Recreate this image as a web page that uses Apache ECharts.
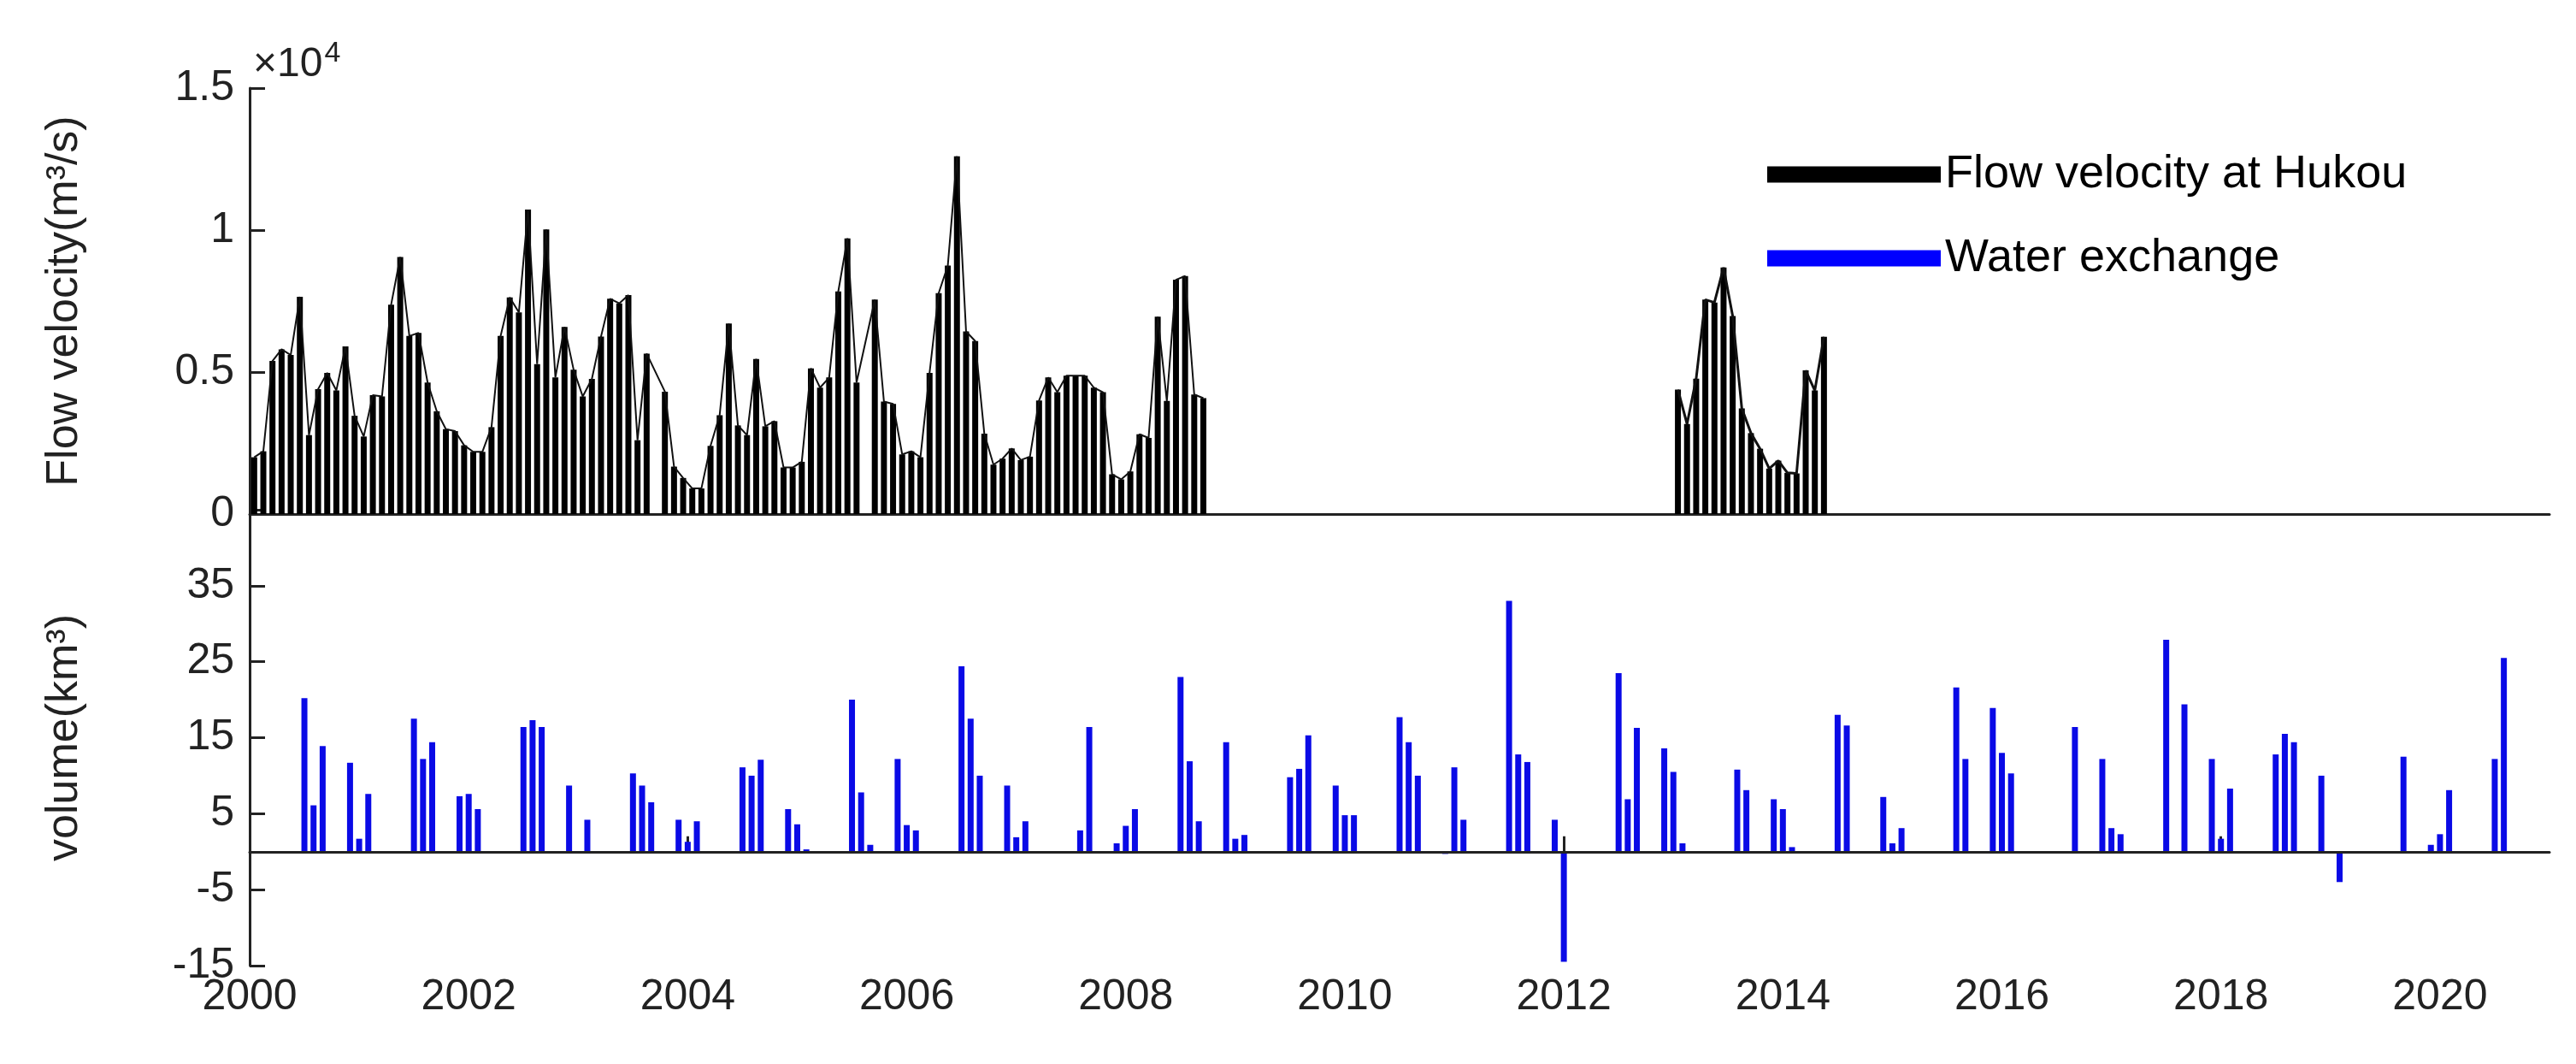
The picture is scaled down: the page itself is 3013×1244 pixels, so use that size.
<!DOCTYPE html>
<html lang="en">
<head>
    <meta charset="UTF-8">
    <title>Flow velocity and water exchange</title>
    <script src="https://cdn.jsdelivr.net/npm/echarts@6/dist/echarts.min.js"></script>
    <style>
        html, body {margin: 0; padding: 0; background: #fff;}
        #container {width: 3013px; height: 1244px;}
    </style>
</head>
<body>
<div id="container"></div>
<script type="text/javascript">
    // monthly flow at Hukou, first block starts Jan 2000, second block Jan 2013 (null = missing month)
    var flowStart1 = 2000;
    var flow1 = [2000, 2210, 5390, 5800, 5600, 7650, 2780, 4400, 4970, 4350, 5900, 3460,
        2730, 4190, 4140, 7370, 9050, 6270, 6380, 4630, 3620, 2990, 2920, 2420,
        2190, 2190, 3060, 6270, 7630, 7100, 10720, 5280, 10020, 4810, 6590, 5080,
        4140, 4760, 6250, 7580, 7420, 7710, 2600, 5650, null, 4310, 1670, 1270,
        900, 900, 2400, 3480, 6710, 3120, 2780, 5460, 3090, 3270, 1640, 1640,
        1840, 5130, 4450, 4810, 7840, 9710, 4630, null, 7550, 3960, 3880, 2100,
        2210, 2000, 4970, 7780, 8750, 12600, 6430, 6090, 2830, 1740, 1950, 2310,
        1900, 2020, 4000, 4810, 4290, 4870, 4870, 4870, 4450, 4290, 1400, 1220,
        1500, 2810, 2680, 6950, 3980, 8250, 8380, 4210, 4080];
    var flowStart2 = 2013;
    var flow2 = [4380, 3170, 4770, 7550, 7450, 8680, 6970, 3720, 2850, 2300, 1600, 1880,
        1450, 1430, 5060, 4350, 6240];

    // water exchange volume (km3) by month
    var exMonths = ['2000-07', '2000-08', '2000-09', '2000-12', '2001-01', '2001-02',
        '2001-07', '2001-08', '2001-09', '2001-12', '2002-01', '2002-02',
        '2002-07', '2002-08', '2002-09', '2002-12', '2003-02',
        '2003-07', '2003-08', '2003-09', '2003-12', '2004-01', '2004-02',
        '2004-07', '2004-08', '2004-09', '2004-12', '2005-01', '2005-02',
        '2005-07', '2005-08', '2005-09', '2005-12', '2006-01', '2006-02',
        '2006-07', '2006-08', '2006-09', '2006-12', '2007-01', '2007-02',
        '2007-08', '2007-09', '2007-12', '2008-01', '2008-02',
        '2008-07', '2008-08', '2008-09', '2008-12', '2009-01', '2009-02',
        '2009-07', '2009-08', '2009-09', '2009-12', '2010-01', '2010-02',
        '2010-07', '2010-08', '2010-09', '2010-12', '2011-01', '2011-02',
        '2011-07', '2011-08', '2011-09', '2011-12', '2012-01',
        '2012-07', '2012-08', '2012-09', '2012-12', '2013-01', '2013-02',
        '2013-08', '2013-09', '2013-12', '2014-01', '2014-02',
        '2014-07', '2014-08', '2014-12', '2015-01', '2015-02',
        '2015-08', '2015-09', '2015-12', '2016-01', '2016-02',
        '2016-09', '2016-12', '2017-01', '2017-02',
        '2017-07', '2017-09', '2017-12', '2018-01', '2018-02',
        '2018-07', '2018-08', '2018-09', '2018-12', '2019-02',
        '2019-09', '2019-12', '2020-01', '2020-02', '2020-07', '2020-08'];
    var exValues = [20.2, 6.1, 13.9, 11.7, 1.7, 7.6,
        17.5, 12.2, 14.4, 7.3, 7.6, 5.6,
        16.4, 17.3, 16.4, 8.7, 4.2,
        10.3, 8.7, 6.5, 4.2, 1.3, 4.0,
        11.1, 10.0, 12.1, 5.6, 3.6, 0.3,
        20.0, 7.8, 0.9, 12.2, 3.5, 2.8,
        24.4, 17.5, 10.0, 8.7, 1.9, 4.0,
        2.8, 16.4, 1.1, 3.4, 5.6,
        23.0, 11.9, 4.0, 14.4, 1.7, 2.2,
        9.8, 10.9, 15.3, 8.7, 4.8, 4.8,
        17.7, 14.4, 10.0, -0.3, 11.1, 4.2,
        33.0, 12.8, 11.8, 4.2, -14.5,
        23.5, 6.9, 16.3, 13.6, 10.5, 1.1,
        10.8, 8.1, 6.9, 5.6, 0.6,
        18.0, 16.6, 7.2, 1.1, 3.1,
        21.6, 12.2, 18.9, 13.0, 10.3,
        16.4, 12.2, 3.1, 2.3,
        27.9, 19.4, 12.2, 1.7, 8.3,
        12.8, 15.5, 14.4, 10.0, -4.0,
        12.5, 0.9, 2.3, 8.1, 12.2, 25.5];

    var flowTicks = ['0', '0.5', '1', '1.5'];

    function monthly(start, arr) {
        return arr.map(function (v, i) { return [start + (i + 0.5) / 12, v]; });
    }
    var flowData1 = monthly(flowStart1, flow1);
    var flowData2 = monthly(flowStart2, flow2);
    var exData = exMonths.map(function (m, i) {
        var p = m.split('-');
        return [Number(p[0]) + (Number(p[1]) - 1) / 12, exValues[i]];
    });

    var font = 'Liberation Sans, Arial, sans-serif';
    var axisLine = {show: true, lineStyle: {color: '#222', width: 3}};
    var tick = {show: true, inside: true, length: 18, lineStyle: {color: '#222', width: 3}};

    var flowBarStyle = function (fill) {
        return {color: fill, borderColor: '#000', borderWidth: 4};
    };

    var option = {
        backgroundColor: '#fff',
        animation: false,
        textStyle: {fontFamily: font},
        grid: [
            {left: 292, right: 31, top: 103, height: 498},
            {left: 292, right: 31, top: 596, height: 533}
        ],
        legend: {
            orient: 'vertical',
            left: 2062,
            top: 172,
            itemWidth: 203,
            itemHeight: 19,
            itemGap: 44,
            icon: 'rect',
            textStyle: {fontSize: 54, color: '#000', fontFamily: font},
            data: [
                {name: 'Flow velocity at Hukou', itemStyle: {color: '#000', borderWidth: 0}},
                {name: 'Water exchange', itemStyle: {color: '#0000ff'}}
            ]
        },
        xAxis: [
            {
                type: 'value', gridIndex: 0, min: 2000, max: 2021,
                axisLine: axisLine, axisTick: {show: false}, axisLabel: {show: false},
                splitLine: {show: false}
            },
            {
                type: 'value', gridIndex: 1, min: 2000, max: 2021, interval: 2,
                axisLine: axisLine,
                axisTick: tick,
                axisLabel: {
                    fontSize: 50, color: '#222', margin: 12, fontFamily: font,
                    showMaxLabel: false,
                    formatter: function (v) { return String(v); }
                },
                splitLine: {show: false}
            }
        ],
        yAxis: [
            {
                type: 'value', gridIndex: 0, min: 0, max: 15000, interval: 5000,
                name: 'Flow velocity(m³/s)', nameLocation: 'middle', nameGap: 190,
                nameTextStyle: {fontSize: 52, color: '#222', fontFamily: font},
                axisLine: axisLine, axisTick: tick,
                axisLabel: {
                    fontSize: 50, color: '#222', margin: 18, fontFamily: font,
                    formatter: function (v) { return flowTicks[Math.round(v / 5000)]; }
                },
                splitLine: {show: false}
            },
            {
                type: 'value', gridIndex: 1, min: -15, max: 45, interval: 10,
                name: 'volume(km³)', nameLocation: 'middle', nameGap: 190,
                nameTextStyle: {fontSize: 52, color: '#222', fontFamily: font},
                axisLine: axisLine, axisTick: tick,
                axisLabel: {
                    fontSize: 50, color: '#222', margin: 18, fontFamily: font,
                    formatter: function (v) { return v === 45 ? '' : String(v); }
                },
                splitLine: {show: false}
            }
        ],
        graphic: [{
            type: 'text', left: 296, top: 46,
            style: {
                text: '{a|×10}{b|4}',
                rich: {
                    a: {fontSize: 48, fill: '#222', fontFamily: font},
                    b: {fontSize: 34, fill: '#222', fontFamily: font, verticalAlign: 'top', padding: [0, 0, 26, 2]}
                }
            }
        }],
        series: [
            {
                name: 'Flow velocity at Hukou', type: 'bar', xAxisIndex: 0, yAxisIndex: 0,
                barWidth: 7, barGap: '-100%', data: flowData1, itemStyle: flowBarStyle('#ffffff')
            },
            {
                name: 'Flow velocity at Hukou', type: 'bar', xAxisIndex: 0, yAxisIndex: 0,
                barWidth: 7, barGap: '-100%', data: flowData2, itemStyle: flowBarStyle('#c0c0c0')
            },
            {
                type: 'line', xAxisIndex: 0, yAxisIndex: 0, data: flowData1, connectNulls: true,
                showSymbol: false, lineStyle: {color: '#111', width: 2}
            },
            {
                type: 'line', xAxisIndex: 0, yAxisIndex: 0, data: flowData2, connectNulls: true,
                showSymbol: false, lineStyle: {color: '#111', width: 3}
            },
            {
                name: 'Water exchange', type: 'bar', xAxisIndex: 1, yAxisIndex: 1,
                barWidth: 7, data: exData, itemStyle: {color: '#0a0ae6'},
                markLine: {
                    silent: true, symbol: 'none', label: {show: false},
                    lineStyle: {color: '#222', width: 3, type: 'solid'},
                    data: [{yAxis: 0}]
                }
            }
        ]
    };

    var myChart = echarts.init(document.getElementById('container'));
    myChart.setOption(option);
</script>
</body>
</html>
